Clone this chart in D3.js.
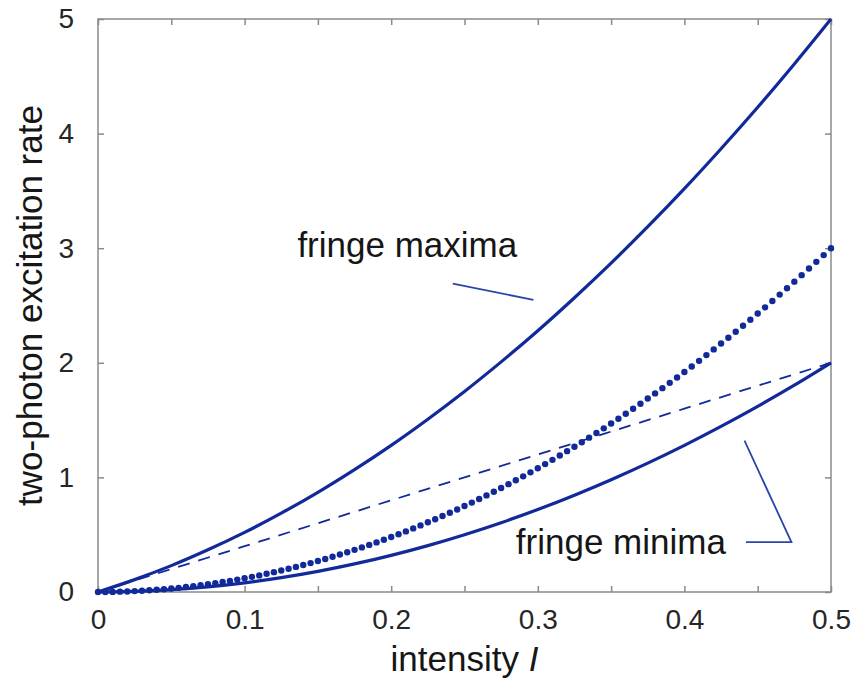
<!DOCTYPE html>
<html>
<head>
<meta charset="utf-8">
<script src="https://cdn.jsdelivr.net/npm/d3@7"></script>
<style>
  html, body { margin: 0; padding: 0; background: #fff; }
  svg { display: block; }
  text { font-family: "Liberation Sans", Arial, Helvetica, sans-serif; }
</style>
</head>
<body>
<script>
// ---- data ----
const xSolid = [0, 0.025, 0.05, 0.075, 0.1, 0.125, 0.15, 0.175, 0.2, 0.225, 0.25,
                0.275, 0.3, 0.325, 0.35, 0.375, 0.4, 0.425, 0.45, 0.475, 0.5];
const fringeMaxima = [0, 0.108, 0.23, 0.368, 0.52, 0.688, 0.87, 1.068, 1.28, 1.508, 1.75,
                      2.008, 2.28, 2.568, 2.87, 3.188, 3.52, 3.868, 4.23, 4.608, 5.0];
const fringeMinima = [0, 0.005, 0.02, 0.045, 0.08, 0.125, 0.18, 0.245, 0.32, 0.405, 0.5,
                      0.605, 0.72, 0.845, 0.98, 1.125, 1.28, 1.445, 1.62, 1.805, 2.0];
const xDashed = [0, 0.1, 0.2, 0.3, 0.4, 0.5];
const dashedLinear = [0, 0.4, 0.8, 1.2, 1.6, 2.0];
const averageDots = [0, 0, 0.001, 0.003, 0.005, 0.008, 0.011, 0.015, 0.019, 0.024,
  0.03, 0.036, 0.043, 0.051, 0.059, 0.068, 0.077, 0.087, 0.097, 0.108,
  0.12, 0.132, 0.145, 0.159, 0.173, 0.188, 0.203, 0.219, 0.235, 0.252,
  0.27, 0.288, 0.307, 0.327, 0.347, 0.368, 0.389, 0.411, 0.433, 0.456,
  0.48, 0.504, 0.529, 0.555, 0.581, 0.608, 0.635, 0.663, 0.691, 0.72,
  0.75, 0.78, 0.811, 0.843, 0.875, 0.908, 0.941, 0.975, 1.009, 1.044,
  1.08, 1.116, 1.153, 1.191, 1.229, 1.268, 1.307, 1.347, 1.387, 1.428,
  1.47, 1.512, 1.555, 1.599, 1.643, 1.688, 1.733, 1.779, 1.825, 1.872,
  1.92, 1.968, 2.017, 2.067, 2.117, 2.168, 2.219, 2.271, 2.323, 2.376,
  2.43, 2.484, 2.539, 2.595, 2.651, 2.708, 2.765, 2.823, 2.881, 2.94, 3.0];
const xDots = d3.range(averageDots.length).map(i => i * 0.005);
const xTickValues = [0, 0.05, 0.1, 0.15, 0.2, 0.25, 0.3, 0.35, 0.4, 0.45, 0.5];
const xTickLabels = ["0", "0.1", "0.2", "0.3", "0.4", "0.5"];
const yTickValues = [0, 1, 2, 3, 4, 5];
const annotations = [
  { text: "fringe maxima", x: 0.136, y: 2.92, line: [[0.242, 2.69], [0.297, 2.55]] },
  { text: "fringe minima", x: 0.285, y: 0.33, line: [[0.441, 1.32], [0.473, 0.436], [0.442, 0.436]] }
];

// ---- layout ----
const W = 856, H = 680;
const margin = { left: 98, top: 19, right: 25, bottom: 88 };
const iw = W - margin.left - margin.right;
const ih = H - margin.top - margin.bottom;
const navy = "#12299a";

const svg = d3.select("body").append("svg").attr("width", W).attr("height", H);
const g = svg.append("g").attr("transform", `translate(${margin.left},${margin.top})`);

const x = d3.scaleLinear().domain([0, 0.5]).range([0, iw]);
const y = d3.scaleLinear().domain([0, 5]).range([ih, 0]);

const axisColor = "#8a8a8a";
const fmtX = d => xTickLabels.includes(String(+d.toFixed(2))) ? String(+d.toFixed(2)) : "";

function styleAxis(sel) {
  sel.select(".domain").attr("stroke", "none");
  sel.selectAll(".tick line").attr("stroke", axisColor).attr("stroke-width", 1.5);
  sel.selectAll(".tick text").attr("fill", "#262626").style("font-size", "28px");
}

// bottom axis
g.append("g").attr("transform", `translate(0,${ih})`)
  .call(d3.axisBottom(x).tickValues(xTickValues).tickSizeInner(-6).tickSizeOuter(0).tickPadding(17).tickFormat(fmtX))
  .call(styleAxis);
// top axis
g.append("g")
  .call(d3.axisTop(x).tickValues(xTickValues).tickSizeInner(-6).tickSizeOuter(0).tickFormat(""))
  .call(styleAxis);
// left axis
g.append("g")
  .call(d3.axisLeft(y).tickValues(yTickValues).tickSizeInner(-6).tickSizeOuter(0).tickPadding(24).tickFormat(d3.format("d")))
  .call(styleAxis);
// right axis
g.append("g").attr("transform", `translate(${iw},0)`)
  .call(d3.axisRight(y).tickValues(yTickValues).tickSizeInner(-6).tickSizeOuter(0).tickFormat(""))
  .call(styleAxis);

// box
g.append("rect").attr("x", 0).attr("y", 0).attr("width", iw).attr("height", ih)
  .attr("fill", "none").attr("stroke", axisColor).attr("stroke-width", 1.5);

// lines
const line = d3.line().x(d => x(d[0])).y(d => y(d[1])).curve(d3.curveCatmullRom);

g.append("path").datum(xDashed.map((v, i) => [v, dashedLinear[i]]))
  .attr("d", line).attr("fill", "none").attr("stroke", navy)
  .attr("stroke-width", 1.8).attr("stroke-dasharray", "12,9");

g.append("path").datum(xSolid.map((v, i) => [v, fringeMaxima[i]]))
  .attr("d", line).attr("fill", "none").attr("stroke", navy).attr("stroke-width", 3.2);

g.append("path").datum(xSolid.map((v, i) => [v, fringeMinima[i]]))
  .attr("d", line).attr("fill", "none").attr("stroke", navy).attr("stroke-width", 3.2);

g.append("g").selectAll("circle").data(xDots.map((v, i) => [v, averageDots[i]]))
  .join("circle")
  .attr("cx", d => x(d[0])).attr("cy", d => y(d[1])).attr("r", 3.2)
  .attr("fill", navy);

// annotations
const lin = d3.line().x(d => x(d[0])).y(d => y(d[1]));
annotations.forEach(a => {
  g.append("path").attr("d", lin(a.line)).attr("fill", "none")
    .attr("stroke", "#2b45aa").attr("stroke-width", 1.8);
  g.append("text").attr("x", x(a.x)).attr("y", y(a.y))
    .attr("fill", "#161616").style("font-size", "35px").text(a.text);
});

// axis labels
const xl = svg.append("text")
  .attr("x", margin.left + iw / 2).attr("y", 671)
  .attr("text-anchor", "middle").attr("fill", "#161616").style("font-size", "35px");
xl.append("tspan").text("intensity ");
xl.append("tspan").attr("font-style", "italic").text("I");

svg.append("text")
  .attr("transform", `translate(42,${margin.top + ih / 2}) rotate(-90)`)
  .attr("text-anchor", "middle").attr("fill", "#161616").style("font-size", "35px")
  .text("two-photon excitation rate");
</script>
</body>
</html>
